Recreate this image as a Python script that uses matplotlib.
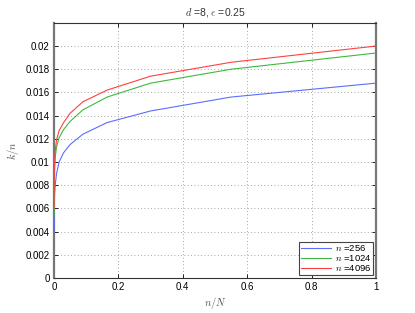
import numpy as np
import matplotlib.pyplot as plt

# データ (n/N, k/n)
n_over_N = [0.0003, 0.001, 0.002, 0.004, 0.008, 0.016, 0.03, 0.05, 0.09, 0.165, 0.3, 0.55, 1.0]
k_256 = [0.0040, 0.0062, 0.0072, 0.0080, 0.0090, 0.0100, 0.0108, 0.0115, 0.0124, 0.0134, 0.0144, 0.0156, 0.0168]
k_1024 = [0.0053, 0.0082, 0.0094, 0.0104, 0.0113, 0.0121, 0.0128, 0.0135, 0.0145, 0.0156, 0.0168, 0.0180, 0.0194]
k_4096 = [0.0060, 0.0090, 0.0100, 0.0110, 0.0119, 0.0127, 0.0134, 0.0142, 0.0152, 0.0162, 0.0174, 0.0186, 0.0200]
labels = [r'$n$ =256', r'$n$ =1024', r'$n$ =4096']
x_ticks = [0, 0.2, 0.4, 0.6, 0.8, 1]
x_tick_labels = ['0', '0.2', '0.4', '0.6', '0.8', '1']
y_ticks = [0, 0.002, 0.004, 0.006, 0.008, 0.01, 0.012, 0.014, 0.016, 0.018, 0.02]
y_tick_labels = ['0', '0.002', '0.004', '0.006', '0.008', '0.01', '0.012', '0.014', '0.016', '0.018', '0.02']

plt.rcParams['font.family'] = ['Liberation Sans', 'DejaVu Sans']
plt.rcParams['mathtext.fontset'] = 'cm'

fig = plt.figure(figsize=(4.15, 3.13), dpi=100)
ax = fig.add_axes([0.130, 0.112, 0.776, 0.815])

# 線はスパインの上に描く
ax.plot(n_over_N, k_256, color='#5a6eff', lw=0.8, label=labels[0], zorder=3)
ax.plot(n_over_N, k_1024, color='#3fb83f', lw=0.8, label=labels[1], zorder=3)
ax.plot(n_over_N, k_4096, color='#ff4040', lw=0.8, label=labels[2], zorder=3)

ax.set_xlim(0, 1)
ax.set_ylim(0, 0.022)
ax.set_xticks(x_ticks)
ax.set_xticklabels(x_tick_labels)
ax.set_yticks(y_ticks)
ax.set_yticklabels(y_tick_labels)
ax.tick_params(direction='in', top=True, right=True, length=3, width=0.6,
               labelsize=7, pad=3)
ax.grid(True, linestyle=(0, (1, 3)), color='#888888', lw=0.6)

for s in ax.spines.values():
    s.set_linewidth(0.8)
    s.set_color('#333333')
ax.spines['left'].set_linewidth(1.6)
ax.spines['left'].set_color('#777777')
ax.spines['right'].set_linewidth(1.6)
ax.spines['right'].set_color('#777777')

ax.set_title(r'$d$ =8, $\epsilon$ =0.25', fontsize=7.5, color='#333333', pad=5)
ax.set_xlabel(r'$n/N$', fontsize=7.5, color='#555555', labelpad=2)
ax.set_ylabel(r'$k/n$', fontsize=7.5, color='#555555', labelpad=3)

leg = ax.legend(loc='lower right', fontsize=6.8, handlelength=3.2, handletextpad=0.4,
                borderpad=0.15, labelspacing=0.0, borderaxespad=0.35, fancybox=False,
                framealpha=1)
leg.get_frame().set_edgecolor('#444444')
leg.get_frame().set_linewidth(0.8)

fig.savefig('out.png', dpi=100)
